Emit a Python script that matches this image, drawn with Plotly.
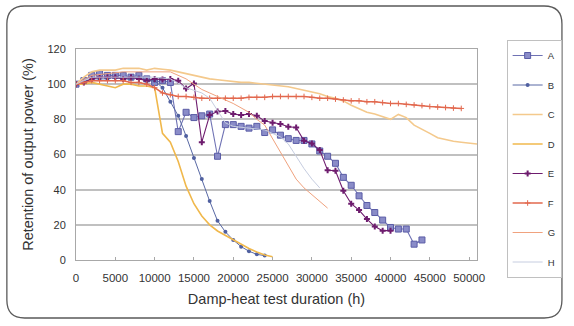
import plotly.graph_objects as go

# ---------------- data (hours, % retention) ----------------
A_t = [0,1000,2000,3000,4000,5000,6000,7000,8000,9000,10000,11000,12000,13000,14000,15000,16000,17000,18000,19000,20000,21000,22000,23000,24000,25000,26000,27000,28000,29000,30000,31000,32000,33000,34000,35000,36000,37000,38000,39000,40000,41000,42000,43000,44000]
A_v = [100,102,105,106,105,105,105,104,105,103,101,102,101,73,84,81,82,83,59,77,77,76,75,76,72.5,74,71,69,68,68,66,62,59,55,47,42.5,36.5,31,27,22.7,18.5,17.6,17.6,9,11.4]

B_t = [0,1000,2000,3000,4000,5000,6000,7000,8000,9000,10000,11000,12000,13000,14000,15000,16000,17000,18000,19000,20000,21000,22000,23000,24000]
B_v = [100,101,103,103,103,104,103,103,104,102,102,98,90,82,70.5,58,46,33.5,22.3,16,11.4,7.6,5,3.2,2.5]

C_t = [0,1000,2000,3000,4000,5000,6000,7000,8000,9000,10000,11000,12000,13000,14000,15000,16000,17000,18000,19000,20000,21000,22000,23000,24000,25000,26000,27000,28000,29000,30000,31000,32000,33000,34000,35000,36000,37000,38000,39000,40000,41000,42000,43000,44000,45000,46000,47000,48000,49000,50000,51000]
C_v = [100,104,107,108,108,108,109,109,109,108,109,108.5,108,107,106,105,104,103,102.5,102,101.5,101,101,100.5,100,99.5,99.4,98.5,97.5,96.5,95.6,94.5,93,92,90.5,88,86,84,83,81.5,80,82.8,81,76.7,74.5,72,69.5,68.5,67.5,67,66.5,66]

D_t = [0,1000,2000,3000,4000,5000,6000,7000,8000,9000,10000,11000,12000,13000,14000,15000,16000,17000,18000,19000,20000,21000,22000,23000,24000,25000]
D_v = [100,100,101,100,99,98,100,100,99,99,98,72,67,56,42,32,25,20,16.5,14,11.5,8.7,6.5,4.5,2.8,1.9]

E_t = [0,1000,2000,3000,4000,5000,6000,7000,8000,9000,10000,11000,12000,13000,14000,15000,16000,17000,18000,19000,20000,21000,22000,23000,24000,25000,26000,27000,28000,29000,30000,31000,32000,33000,34000,35000,36000,37000,38000,39000,40000]
E_v = [100,101,103,104,104,104,103,104,103,102,103,102.6,103,102,97.5,100.4,67,82.4,84.5,84.7,83,82.4,83,82,79,78,77.3,75.8,75.4,67.8,66.3,62.5,51,50.8,39.4,32,28.4,23.3,19,16.7,16.7]

F_t = [0,1000,2000,3000,4000,5000,6000,7000,8000,9000,10000,11000,12000,13000,14000,15000,16000,17000,18000,19000,20000,21000,22000,23000,24000,25000,26000,27000,28000,29000,30000,31000,32000,33000,34000,35000,36000,37000,38000,39000,40000,41000,42000,43000,44000,45000,46000,47000,48000,49000]
F_v = [100,101,102,102,102,102,102,101,101,100,98,95,94,93,93,92.5,92,92,92,92,92,92,92.5,92.5,92.5,93,93,93,93,93,92.5,92,92,91.5,91,90.5,90.5,90,90,89.5,89,89,88.5,88.2,87.8,87.3,87,86.7,86.4,86.2]

G_t = [0,2000,4000,6000,8000,10000,12000,14000,16000,17000,18000,20000,22000,23000,24000,25000,26000,27000,28000,29000,30000,31000,32000]
G_v = [100,105,106,107,107,107,107,103,97,95,93,89,84,80,76.7,69,61,53,46,41,37,33,29.5]

H_t = [0,2000,4000,6000,8000,10000,12000,14000,16000,17000,18000,19000,20000,22000,24000,25000,26000,27000,28000,29000,30000,31000]
H_v = [100,104,104,104,104,104,103,98,95,92,85,78,76,75,74,72,70,66,59,52,46,41]

x_ticks = [0, 5000, 10000, 15000, 20000, 25000, 30000, 35000, 40000, 45000, 50000]
x_labels = ["0", "5000", "10000", "15000", "20000", "25000", "30000", "35000", "40000", "45000", "50000"]
y_ticks = [0, 20, 40, 60, 80, 100, 120]

# ---------------- figure ----------------
W, H = 574, 326
L, R, T, Bm = 76, 92, 49, 66
pw, ph = W - L - R, H - T - Bm

fig = go.Figure()

def add(name, t, v, color, width, marker=None):
    kw = dict(x=t, y=v, name=name, legendgroup=name,
              line=dict(color=color, width=width))
    if marker:
        kw["mode"] = "lines+markers"
        kw["marker"] = marker
    else:
        kw["mode"] = "lines"
    fig.add_trace(go.Scatter(**kw))

add("A", A_t, A_v, "#6f72b4", 1.1,
    dict(symbol="square", size=6, color="#8a8cc8", line=dict(color="#5a5ca6", width=1)))
add("B", B_t, B_v, "#5868a4", 1.0,
    dict(symbol="circle", size=4, color="#5060a0"))
add("C", C_t, C_v, "#f4c98c", 1.6)
add("D", D_t, D_v, "#f0b84c", 1.6)
add("E", E_t, E_v, "#6e1c6e", 1.1,
    dict(symbol="cross", size=5, color="#6e1c6e"))
add("F", F_t, F_v, "#e2684e", 1.5,
    dict(symbol="cross-thin", size=4, color="#e2684e", line=dict(color="#e2684e", width=1)))
add("G", G_t, G_v, "#f0a27e", 1.0)
add("H", H_t, H_v, "#c6cde0", 1.0)

# outer rounded frame (paper coordinates)
def px2x(p):
    return (p - L) / pw

def py2y(p):
    return (H - Bm - p) / ph

x0, x1 = px2x(6), px2x(568)
y0, y1 = py2y(318), py2y(6)
rx, ry = 18 / pw, 18 / ph
path = (f"M {x0+rx},{y1} L {x1-rx},{y1} Q {x1},{y1} {x1},{y1-ry} "
        f"L {x1},{y0+ry} Q {x1},{y0} {x1-rx},{y0} "
        f"L {x0+rx},{y0} Q {x0},{y0} {x0},{y0+ry} "
        f"L {x0},{y1-ry} Q {x0},{y1} {x0+rx},{y1} Z")
fig.add_shape(type="path", path=path, xref="paper", yref="paper",
              line=dict(color="#5a5a5a", width=1.3), layer="below")

fig.update_layout(
    width=W, height=H,
    margin=dict(l=L, r=R, t=T, b=Bm),
    paper_bgcolor="white", plot_bgcolor="white",
    font=dict(family="Arial, Liberation Sans, sans-serif", color="#333333", size=11),
    showlegend=True,
    legend=dict(x=px2x(512), y=py2y(40), xanchor="left", yanchor="top",
                bordercolor="#c0c0c0", borderwidth=1, bgcolor="white",
                font=dict(size=9.5, color="#333333"), maxheight=300,
                itemwidth=30, tracegroupgap=10.5, traceorder="grouped"),
    xaxis=dict(range=[0, 51000], tickvals=x_ticks, ticktext=x_labels,
               showgrid=False, zeroline=False,
               showline=True, linecolor="#a8a8a8", linewidth=1, mirror=True,
               ticks="inside", ticklen=3, tickcolor="#a8a8a8",
               ticklabelstandoff=7,
               tickfont=dict(size=11.5, color="#333333"),
               title=dict(text="Damp-heat test duration (h)", font=dict(size=14.5), standoff=11)),
    yaxis=dict(range=[0, 120], tickvals=y_ticks,
               showgrid=True, gridcolor="#c0c0c0", gridwidth=1.5, zeroline=False,
               showline=True, linecolor="#a8a8a8", linewidth=1, mirror=True,
               ticks="", ticklabelstandoff=7,
               tickfont=dict(size=11, color="#333333"),
               title=dict(text="Retention of output power (%)", font=dict(size=14.5), standoff=10)),
)

fig.write_html("out.html", config={"displayModeBar": False},
               post_script="document.body.style.margin='0';")
